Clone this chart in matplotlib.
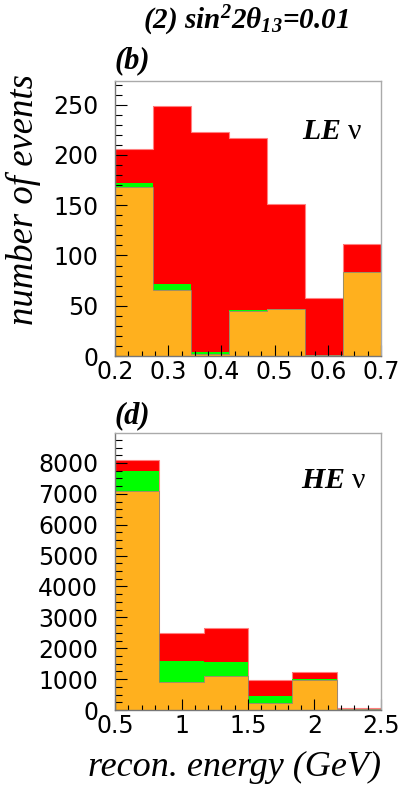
import numpy as np
import matplotlib
matplotlib.use('Agg')
import matplotlib.pyplot as plt
from matplotlib.ticker import MultipleLocator, FuncFormatter

plt.rcParams['mathtext.fontset'] = 'custom'
plt.rcParams['mathtext.rm'] = 'Liberation Serif:italic:bold'
plt.rcParams['mathtext.it'] = 'Liberation Serif:italic:bold'
plt.rcParams['mathtext.bf'] = 'Liberation Serif:italic:bold'

# low-energy sample (panel b), 7 bins 0.2-0.7 GeV
le_edges = np.linspace(0.2, 0.7, 8)
le_total = [206, 249, 223, 217, 151, 58, 111]
le_green = [172, 72, 4, 46, 47, 1, 84]
le_orange = [168, 66, 2, 45, 47, 1, 84]

# high-energy sample (panel d), 6 bins 0.5-2.5 GeV
he_edges = np.linspace(0.5, 2.5, 7)
he_total = [8080, 2490, 2650, 975, 1235, 80]
he_green = [7750, 1590, 1560, 455, 1015, 30]
he_orange = [7100, 900, 1115, 240, 975, 30]

RED = '#ff0000'
GREEN = '#00ff00'
ORANGE = '#ffb01e'
W, H = 399, 785

fig = plt.figure(figsize=(W / 100, H / 100), dpi=100)


def panel(rect, edges, total, green, orange, ylim, ymaj, ymin, xmaj, xmin, xlim):
    ax = fig.add_axes(rect)
    ax.stairs(total, edges, fill=True, color=RED, lw=0)
    ax.stairs(total, edges, color='#ff8080', lw=0.8)
    ax.stairs(green, edges, fill=True, color=GREEN, lw=0)
    ax.stairs(orange, edges, fill=True, color=ORANGE, lw=0)
    ax.stairs(orange, edges, color='#8a8a70', lw=0.6, baseline=None)
    ax.set_xlim(*xlim)
    ax.set_ylim(*ylim)
    ax.yaxis.set_major_locator(MultipleLocator(ymaj))
    ax.yaxis.set_minor_locator(MultipleLocator(ymin))
    ax.xaxis.set_major_locator(MultipleLocator(xmaj))
    ax.xaxis.set_minor_locator(MultipleLocator(xmin))
    ax.xaxis.set_major_formatter(FuncFormatter(lambda v, p: f'{v:g}'))
    ax.yaxis.set_major_formatter(FuncFormatter(lambda v, p: f'{v:g}'))
    ax.tick_params(which='both', direction='in', color='black', width=0.8,
                   top=False, right=False)
    ax.tick_params(axis='y', which='major', length=8.4, pad=12)
    ax.tick_params(axis='y', which='minor', length=4.8)
    ax.tick_params(axis='x', which='major', length=8, pad=3)
    ax.tick_params(axis='x', which='minor', length=3.8)
    for lab in ax.get_xticklabels() + ax.get_yticklabels():
        lab.set_fontfamily('DejaVu Sans')
        lab.set_fontsize(17)
    for side in ['left', 'bottom']:
        ax.spines[side].set_color('#777777')
    for side in ['top', 'right']:
        ax.spines[side].set_color('#aaaaaa')
    for s in ax.spines.values():
        s.set_linewidth(1)
    return ax


x0 = 115 / W
w = (381 - 115) / W
ax1 = panel([x0, 1 - 356 / H, w, (356 - 80.5) / H], le_edges, le_total,
            le_green, le_orange, (0, 274), 50, 10, 0.1, 0.025, (0.2, 0.7))
ax2 = panel([x0, 1 - 710 / H, w, (710 - 433) / H], he_edges, he_total,
            he_green, he_orange, (0, 8970), 1000, 250, 0.5, 0.1, (0.5, 2.5))

serif = 'Liberation Serif'
fig.text(246 / W, 1 - 21 / H, r'(2) sin$^{2}$2θ$_{13}$=0.01', family=serif,
         weight='bold', style='italic', fontsize=21, ha='center', va='center')
fig.text(115 / W, 1 - 61 / H, '(b)', family=serif, weight='bold',
         style='italic', fontsize=22, ha='left', va='center')
fig.text(115 / W, 1 - 416 / H, '(d)', family=serif, weight='bold',
         style='italic', fontsize=22, ha='left', va='center')
fig.text(363 / W, 1 - 132 / H, r'$\mathbf{LE}$ ν', family=serif,
         fontsize=21.5, ha='right', va='center')
fig.text(367 / W, 1 - 481 / H, r'$\mathbf{HE}$ ν', family=serif,
         fontsize=21.5, ha='right', va='center')
fig.text(23 / W, 1 - 74 / H, 'number of events', family=serif, style='italic',
         fontsize=26.5, rotation=90, ha='center', va='top')
fig.text(381 / W, 1 - 767 / H, 'recon. energy (GeV)', family=serif,
         style='italic', fontsize=26, ha='right', va='center')

fig.savefig('out.png', dpi=100)
